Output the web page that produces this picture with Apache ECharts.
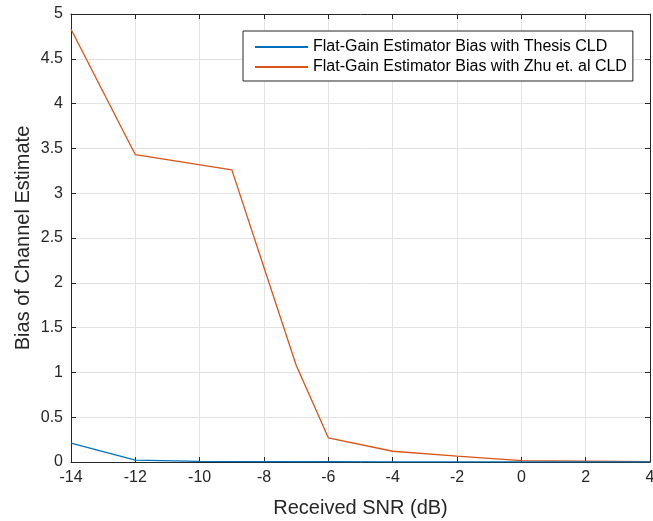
<!DOCTYPE html>
<html>
<head>
<meta charset="utf-8">
<script src="https://cdn.jsdelivr.net/npm/echarts@6/dist/echarts.min.js"></script>
<style>html,body{margin:0;padding:0;background:#fff;}#chart{width:653px;height:521px;}</style>
</head>
<body>
<div id="chart"></div>
<script>
// Received SNR (dB) sample points and the estimator bias at each
const snrThesis = [-14, -12, -10, -8, -6, -4, -2, 0, 2, 4];
const biasThesis = [0.21, 0.02, 0.006, 0.004, 0.003, 0.002, 0.002, 0.001, 0.001, 0.001];
const snrZhu = [-14, -12, -9, -7, -6, -4, -2, 0, 2, 4];
const biasZhu = [4.83, 3.43, 3.26, 1.08, 0.27, 0.12, 0.065, 0.015, 0.01, 0.005];
const seriesNames = ['Flat-Gain Estimator Bias with Thesis CLD', 'Flat-Gain Estimator Bias with Zhu et. al CLD'];
const xTitle = 'Received SNR (dB)';
const yTitle = 'Bias of Channel Estimate';

const pair = (xs, ys) => xs.map((x, i) => [x, ys[i]]);
const txt = '#262626';
const font = 'Liberation Sans, Arial, sans-serif';

const chart = echarts.init(document.getElementById('chart'), null, { renderer: 'canvas' });
const axisBase = {
  axisLine: { show: true, onZero: false, lineStyle: { color: txt, width: 1 } },
  axisTick: { show: true, inside: true, length: 5, lineStyle: { color: txt } },
};
chart.setOption({
  animation: false,
  backgroundColor: '#fff',
  grid: { left: 71, right: 3, top: 14, bottom: 59, containLabel: false, outerBoundsMode: 'none' },
  legend: {
    orient: 'vertical', left: 243, top: 31,
    padding: [8, 6, 6, 12],
    borderColor: txt, borderWidth: 1, backgroundColor: '#fff',
    itemWidth: 53, itemHeight: 2, itemGap: 4,
    icon: 'rect',
    textStyle: { fontFamily: font, fontSize: 16, color: '#000', lineHeight: 16 },
    data: seriesNames
  },
  xAxis: [{
    ...axisBase, type: 'value', min: -14, max: 4, interval: 2,
    name: xTitle, nameLocation: 'middle', nameGap: 36, nameMoveOverlap: false,
    nameTextStyle: { fontFamily: font, fontSize: 20, color: txt },
    axisLabel: { fontFamily: font, fontSize: 16, color: txt, margin: 8 },
    splitLine: { show: true, lineStyle: { color: '#e3e3e3', width: 1 } }
  }, {
    ...axisBase, type: 'value', min: -14, max: 4, interval: 2, position: 'top',
    axisLabel: { show: false }, splitLine: { show: false }
  }],
  yAxis: [{
    ...axisBase, type: 'value', min: 0, max: 5, interval: 0.5,
    name: yTitle, nameLocation: 'middle', nameGap: 38, nameMoveOverlap: false,
    nameTextStyle: { fontFamily: font, fontSize: 20, color: txt },
    axisLabel: { fontFamily: font, fontSize: 16, color: txt, margin: 8 },
    splitLine: { show: true, lineStyle: { color: '#e3e3e3', width: 1 } }
  }, {
    ...axisBase, type: 'value', min: 0, max: 5, interval: 0.5, position: 'right',
    axisLabel: { show: false }, splitLine: { show: false }
  }],
  series: [{
    name: seriesNames[0], type: 'line', data: pair(snrThesis, biasThesis),
    symbol: 'none', color: '#0072BD', lineStyle: { width: 1.3 }, z: 3
  }, {
    name: seriesNames[1], type: 'line', data: pair(snrZhu, biasZhu),
    symbol: 'none', color: '#D95319', lineStyle: { width: 1.3 }, z: 2
  }]
});
</script>
</body>
</html>
